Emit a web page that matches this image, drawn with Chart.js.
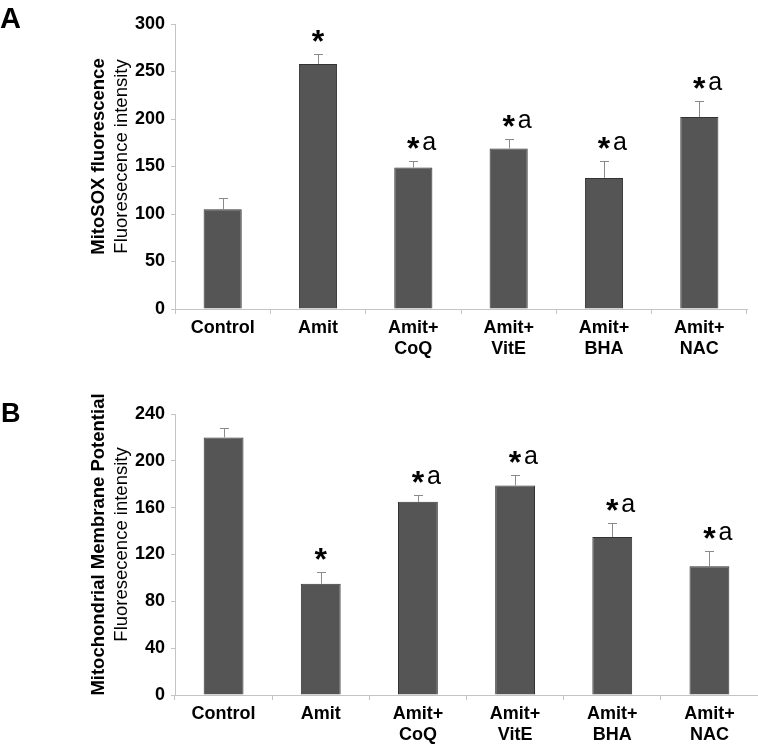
<!DOCTYPE html>
<html>
<head>
<meta charset="utf-8">
<script src="https://cdn.jsdelivr.net/npm/chart.js@4.4.1/dist/chart.umd.min.js"></script>
<style>
  html, body { margin: 0; padding: 0; background: #fff; }
  #wrap { position: relative; width: 758px; height: 747px; overflow: hidden; }
  #wrap canvas { position: absolute; left: 0; }
</style>
</head>
<body>
<div id="wrap">
  <canvas id="chartA" width="758" height="375" style="top:0"></canvas>
  <canvas id="chartB" width="758" height="372" style="top:375px"></canvas>
</div>
<script>
// 데이터
var CATEGORIES = ['Control', 'Amit', ['Amit+', 'CoQ'], ['Amit+', 'VitE'], ['Amit+', 'BHA'], ['Amit+', 'NAC']];

var MITOSOX_VALUES = [105, 258, 149, 169, 138, 202];
var MITOSOX_ERRORS = [12, 10, 7, 10, 18, 17];
var MITOSOX_MARKS = ['', '*', '*a', '*a', '*a', '*a'];
var MITOSOX_TICKS = [0, 50, 100, 150, 200, 250, 300];

var MMP_VALUES = [220, 95, 165, 179, 135, 110];
var MMP_ERRORS = [8, 10, 6, 9, 12, 13];
var MMP_MARKS = ['', '*', '*a', '*a', '*a', '*a'];
var MMP_TICKS = [0, 40, 80, 120, 160, 200, 240];

var FONT = '"Liberation Sans", Arial, Helvetica, sans-serif';
var BAR_COLOR = '#555555';
var BAR_BORDER = '#333333';
var AXIS_COLOR = '#c4c4c4';
var ERR_COLOR = '#8a8a8a';

function makePanel(canvasId, cfg) {
  var canvas = document.getElementById(canvasId);

  // 오차막대 + 유의성 표시(*, a)
  var errorBarPlugin = {
    id: 'errorBars_' + canvasId,
    afterDatasetsDraw: function (chart) {
      var ctx = chart.ctx;
      var yScale = chart.scales.y;
      var meta = chart.getDatasetMeta(0);
      ctx.save();
      meta.data.forEach(function (bar, i) {
        var x = bar.x;
        var yv = yScale.getPixelForValue(cfg.values[i]);
        var yt = yScale.getPixelForValue(cfg.values[i] + cfg.errors[i]);
        ctx.strokeStyle = ERR_COLOR;
        ctx.lineWidth = 1;
        ctx.beginPath();
        ctx.moveTo(Math.round(x) + 0.5, yv);
        ctx.lineTo(Math.round(x) + 0.5, Math.round(yt) + 0.5);
        ctx.moveTo(Math.round(x) - 4, Math.round(yt) + 0.5);
        ctx.lineTo(Math.round(x) + 5, Math.round(yt) + 0.5);
        ctx.stroke();

        var mark = cfg.marks[i];
        if (!mark) return;
        var cy = yt - 18;
        ctx.fillStyle = '#000';
        ctx.textAlign = 'center';
        ctx.textBaseline = 'alphabetic';
        ctx.font = 'bold 32px ' + FONT;
        var m = ctx.measureText('*');
        ctx.fillText('*', x, cy + (m.actualBoundingBoxAscent - m.actualBoundingBoxDescent) / 2);
        if (mark.length > 1) {
          ctx.textAlign = 'left';
          ctx.font = '25px ' + FONT;
          var m2 = ctx.measureText('a');
          ctx.fillText('a', x + 9, cy + (m2.actualBoundingBoxAscent - m2.actualBoundingBoxDescent) / 2);
        }
      });
      ctx.restore();
    },
    afterDraw: function (chart) {
      var ctx = chart.ctx;
      var area = chart.chartArea;
      var cy = (area.top + area.bottom) / 2 - 10;
      ctx.save();
      // 패널 문자
      ctx.fillStyle = '#000';
      ctx.textAlign = 'left';
      ctx.textBaseline = 'alphabetic';
      ctx.font = 'bold ' + cfg.letterSize + 'px ' + FONT;
      ctx.fillText(cfg.letter, cfg.letterX, cfg.letterY);
      // y축 제목 (두 줄, 굵기 다름)
      ctx.translate(0, cy);
      ctx.rotate(-Math.PI / 2);
      ctx.textAlign = 'center';
      ctx.textBaseline = 'middle';
      ctx.font = 'bold 18.5px ' + FONT;
      ctx.fillText(cfg.title, 0, 99);
      ctx.font = '18.5px ' + FONT;
      ctx.fillText(cfg.subtitle, 0, 122);
      ctx.restore();
    }
  };

  return new Chart(canvas, {
    type: 'bar',
    data: {
      labels: CATEGORIES,
      datasets: [{
        data: cfg.values,
        backgroundColor: BAR_COLOR,
        borderColor: BAR_BORDER,
        borderWidth: 1,
        borderSkipped: 'bottom',
        barPercentage: cfg.barPct,
        categoryPercentage: 1
      }]
    },
    options: {
      responsive: false,
      animation: false,
      devicePixelRatio: 1,
      layout: { padding: { top: cfg.padTop, right: cfg.padRight, left: 0, bottom: 0 } },
      scales: {
        x: {
          grid: { display: true, drawOnChartArea: false, drawTicks: true, tickLength: 5, color: AXIS_COLOR, offset: true },
          border: { display: true, color: AXIS_COLOR, width: 1 },
          ticks: { color: '#000', font: { family: FONT, size: 18, weight: 'bold', lineHeight: 1.2 }, padding: 3, maxRotation: 0, autoSkip: false },
          afterFit: function (scale) { scale.height = cfg.xHeight; }
        },
        y: {
          min: cfg.ticks[0],
          max: cfg.ticks[cfg.ticks.length - 1],
          afterBuildTicks: function (scale) {
            scale.ticks = cfg.ticks.map(function (v) { return { value: v }; });
          },
          grid: { display: true, drawOnChartArea: false, drawTicks: true, tickLength: 4, color: AXIS_COLOR },
          border: { display: true, color: AXIS_COLOR, width: 1 },
          ticks: { color: '#000', font: { family: FONT, size: 18, weight: 'bold' }, padding: 6 },
          afterFit: function (scale) { scale.width = 175; }
        }
      },
      plugins: {
        legend: { display: false },
        tooltip: { enabled: false },
        title: { display: false }
      }
    },
    plugins: [errorBarPlugin]
  });
}

makePanel('chartA', {
  values: MITOSOX_VALUES, errors: MITOSOX_ERRORS, marks: MITOSOX_MARKS, ticks: MITOSOX_TICKS,
  title: 'MitoSOX fluorescence', subtitle: 'Fluoresecence intensity',
  letter: 'A', letterSize: 29, letterX: 0, letterY: 28,
  padTop: 24, padRight: 11, xHeight: 66, barPct: 0.4
});

makePanel('chartB', {
  values: MMP_VALUES, errors: MMP_ERRORS, marks: MMP_MARKS, ticks: MMP_TICKS,
  title: 'Mitochondrial Membrane Potential', subtitle: 'Fluoresecence intensity',
  letter: 'B', letterSize: 27, letterX: 1, letterY: 47,
  padTop: 39, padRight: 0, xHeight: 52, barPct: 0.41
});
</script>
</body>
</html>
